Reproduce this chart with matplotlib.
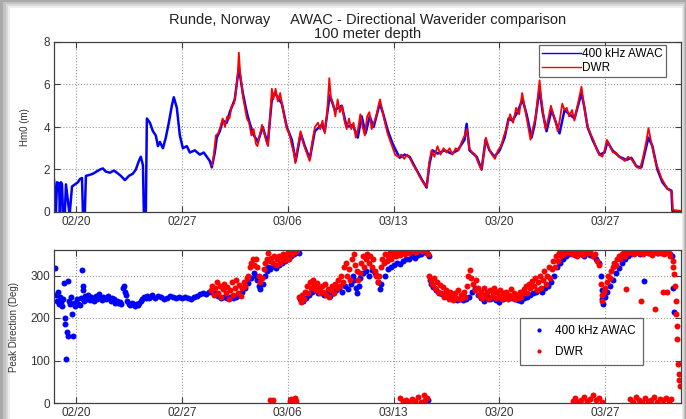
import numpy as np
import matplotlib
matplotlib.use("Agg")
import matplotlib.pyplot as plt
from matplotlib.patches import Rectangle

plt.rcParams["font.family"] = ["Liberation Sans", "DejaVu Sans"]

# x axis: days since 02/20
tick_days = [0, 7, 14, 21, 28, 35]
tick_labels = ["02/20", "02/27", "03/06", "03/13", "03/20", "03/27"]

# Hm0 (m), 400 kHz AWAC
awac_hm0 = [
    (-1.45, 1.5), (-1.32, 0.0), (-1.25, 1.4), (-1.12, 1.35), (-1.06, 0.0), (-0.99, 1.4),
    (-0.92, 1.3), (-0.86, 0.0), (-0.73, 0.0), (-0.66, 1.3), (-0.46, 0.1), (-0.40, 0.0),
    (-0.26, 1.2), (-0.07, 1.3), (0.13, 1.4), (0.26, 1.55), (0.40, 1.6), (0.46, 0.0),
    (0.59, 0.0), (0.66, 1.7), (0.92, 1.75), (1.12, 1.8), (1.59, 2.0), (1.78, 2.05),
    (1.98, 1.9), (2.25, 1.85), (2.51, 1.95), (2.71, 1.85), (2.97, 1.7), (3.24, 1.5),
    (3.50, 1.7), (3.76, 1.8), (3.96, 2.0), (4.16, 2.4), (4.29, 2.6), (4.43, 2.2),
    (4.49, 0.0), (4.62, 0.0), (4.69, 4.4), (4.89, 4.2), (5.09, 3.8), (5.28, 3.6),
    (5.42, 3.1), (5.55, 3.3), (5.75, 3.0), (5.94, 3.5), (6.14, 4.2), (6.34, 5.0),
    (6.47, 5.4), (6.67, 4.9), (6.87, 3.6), (7.07, 3.0), (7.33, 3.1), (7.53, 2.8),
    (7.86, 2.9), (8.19, 2.7), (8.45, 2.8), (8.65, 2.6), (8.85, 2.4), (8.98, 2.1),
    (9.18, 2.8), (9.31, 3.5), (9.51, 3.8), (9.71, 4.3), (9.97, 4.2), (10.17, 4.7),
    (10.50, 5.3), (10.77, 6.8), (10.90, 6.2), (11.03, 5.6), (11.23, 4.9), (11.36, 4.5),
    (11.69, 3.7), (12.02, 3.3), (12.35, 4.0), (12.68, 3.2), (12.95, 5.3), (13.14, 5.6),
    (13.34, 5.4), (13.61, 5.1), (13.94, 4.0), (14.27, 3.4), (14.53, 2.4), (14.86, 3.7),
    (15.13, 3.1), (15.46, 2.5), (15.79, 3.8), (16.25, 4.1), (16.45, 3.8), (16.78, 5.5),
    (17.11, 4.8), (17.57, 5.0), (17.90, 4.0), (18.30, 4.1), (18.63, 3.5), (18.89, 4.5),
    (19.15, 3.7), (19.42, 4.5), (19.68, 4.0), (20.08, 5.1), (20.28, 4.7), (20.61, 3.85),
    (20.94, 3.2), (21.40, 2.55), (21.73, 2.7), (22.06, 2.6), (22.39, 2.15), (22.85, 1.55),
    (23.18, 1.15), (23.38, 2.3), (23.58, 2.9), (23.91, 2.75), (24.37, 2.9), (24.83, 2.75),
    (25.23, 2.9), (25.69, 3.4), (25.83, 4.15), (26.02, 2.9), (26.49, 2.6), (26.82, 2.0),
    (27.08, 3.4), (27.34, 2.9), (27.67, 2.6), (28.01, 2.9), (28.34, 3.5), (28.60, 4.4),
    (28.86, 4.3), (29.19, 4.7), (29.52, 5.3), (29.79, 4.6), (30.12, 3.5), (30.32, 4.1),
    (30.65, 5.8), (30.85, 4.7), (31.11, 3.8), (31.44, 4.8), (31.64, 4.4), (31.97, 3.7),
    (32.30, 4.8), (32.63, 4.6), (32.96, 4.4), (33.42, 5.6), (33.62, 4.9), (33.82, 4.0),
    (34.15, 3.4), (34.61, 2.7), (34.94, 2.8), (35.14, 3.3), (35.47, 2.9), (35.93, 2.6),
    (36.39, 2.45), (36.72, 2.55), (37.05, 2.15), (37.38, 2.1), (37.71, 3.1), (37.85, 3.5),
    (38.11, 3.1), (38.44, 2.0), (38.77, 1.4), (39.10, 1.1), (39.37, 1.0), (39.43, 0.05),
    (40.0, 0.0),
]

# Hm0 (m), DWR
dwr_hm0 = [
    (8.98, 2.2), (9.1, 2.6), (9.25, 3.6), (9.4, 3.7), (9.55, 4.0), (9.7, 4.4), (9.85, 4.0),
    (10.0, 4.5), (10.15, 4.4), (10.3, 5.0), (10.45, 5.1), (10.6, 5.8), (10.7, 6.5),
    (10.77, 7.5), (10.85, 6.6), (10.95, 6.0), (11.05, 5.4), (11.15, 5.0), (11.3, 4.4),
    (11.45, 4.2), (11.6, 3.6), (11.75, 3.9), (11.9, 3.2), (12.0, 3.1), (12.15, 3.6),
    (12.3, 4.1), (12.45, 3.7), (12.6, 3.3), (12.7, 3.1), (12.85, 4.6), (12.95, 5.8),
    (13.05, 5.3), (13.2, 5.8), (13.35, 5.2), (13.5, 5.6), (13.65, 5.0), (13.8, 4.4),
    (13.95, 3.9), (14.1, 3.7), (14.25, 3.2), (14.4, 2.8), (14.5, 2.3), (14.65, 3.0),
    (14.85, 3.8), (15.0, 3.3), (15.15, 3.0), (15.3, 2.7), (15.45, 2.4), (15.6, 3.2),
    (15.8, 4.0), (16.0, 4.2), (16.15, 3.9), (16.3, 4.3), (16.45, 3.7), (16.6, 4.6),
    (16.75, 6.3), (16.85, 5.4), (17.0, 5.1), (17.15, 4.5), (17.3, 5.3), (17.45, 4.7),
    (17.6, 5.0), (17.75, 4.3), (17.9, 3.9), (18.05, 4.4), (18.2, 3.9), (18.35, 4.2),
    (18.5, 3.5), (18.65, 3.9), (18.8, 4.6), (18.95, 4.0), (19.1, 3.6), (19.25, 4.5),
    (19.4, 4.7), (19.55, 3.9), (19.7, 4.2), (19.85, 4.5), (20.0, 5.0), (20.1, 5.3),
    (20.25, 4.8), (20.4, 4.3), (20.6, 3.7), (20.8, 3.3), (20.95, 3.0), (21.1, 2.7),
    (21.3, 2.6), (21.5, 2.7), (21.7, 2.5), (21.9, 2.7), (22.1, 2.5), (22.3, 2.2),
    (22.5, 2.0), (22.7, 1.7), (22.9, 1.45), (23.1, 1.25), (23.2, 1.2), (23.35, 2.3),
    (23.5, 2.9), (23.7, 2.6), (23.9, 3.1), (24.1, 2.7), (24.3, 3.0), (24.5, 2.8),
    (24.7, 3.0), (24.9, 2.7), (25.1, 3.0), (25.3, 2.9), (25.5, 3.3), (25.7, 3.6),
    (25.85, 3.9), (26.0, 3.0), (26.2, 2.8), (26.4, 2.7), (26.6, 2.3), (26.8, 2.0),
    (27.0, 2.9), (27.1, 3.5), (27.3, 3.0), (27.5, 2.7), (27.7, 2.5), (27.9, 2.9),
    (28.1, 3.1), (28.3, 3.6), (28.5, 4.0), (28.7, 4.6), (28.9, 4.2), (29.1, 4.9),
    (29.3, 4.6), (29.5, 5.6), (29.7, 4.8), (29.9, 4.0), (30.05, 3.4), (30.2, 3.9),
    (30.4, 4.5), (30.55, 5.5), (30.65, 6.2), (30.75, 5.4), (30.9, 4.6), (31.05, 3.9),
    (31.2, 4.3), (31.4, 5.0), (31.55, 4.6), (31.7, 4.3), (31.85, 3.8), (32.0, 4.4),
    (32.15, 5.1), (32.3, 4.8), (32.45, 4.9), (32.6, 4.5), (32.8, 4.8), (32.95, 4.3),
    (33.1, 4.8), (33.3, 5.5), (33.42, 5.9), (33.55, 5.2), (33.7, 4.5), (33.85, 4.0),
    (34.0, 3.7), (34.2, 3.4), (34.4, 3.0), (34.6, 2.7), (34.8, 2.6), (34.95, 2.9),
    (35.1, 3.4), (35.3, 3.1), (35.5, 2.8), (35.7, 2.8), (35.9, 2.6), (36.1, 2.5),
    (36.3, 2.4), (36.5, 2.6), (36.7, 2.5), (36.9, 2.3), (37.1, 2.1), (37.3, 2.05),
    (37.5, 2.6), (37.7, 3.3), (37.85, 3.95), (38.0, 3.4), (38.15, 2.9), (38.3, 2.4),
    (38.5, 2.0), (38.7, 1.6), (38.9, 1.35), (39.1, 1.1), (39.3, 1.0), (39.4, 0.9),
    (39.45, 0.1), (40.0, 0.05),
]

# Peak direction (deg), 400 kHz AWAC
awac_dir = [
    (-1.39, 318), (-1.3, 255), (-1.25, 240), (-1.2, 262), (-1.12, 232), (-1.06, 250),
    (-1.0, 238), (-0.93, 228), (-0.86, 245), (-0.8, 283), (-0.75, 201), (-0.7, 186),
    (-0.66, 104), (-0.62, 166), (-0.55, 158), (-0.53, 287), (-0.45, 240), (-0.4, 232),
    (-0.33, 250), (-0.25, 210), (-0.2, 158), (-0.15, 236), (-0.05, 228), (0.05, 245),
    (0.15, 232), (0.26, 230), (0.35, 248), (0.4, 314), (0.46, 275), (0.5, 265),
    (0.55, 240), (0.6, 252), (0.7, 245), (0.8, 255), (0.9, 243), (1.0, 250), (1.1, 247),
    (1.2, 240), (1.3, 252), (1.4, 245), (1.5, 256), (1.6, 248), (1.7, 242), (1.8, 250),
    (1.9, 247), (2.0, 244), (2.1, 252), (2.2, 246), (2.3, 240), (2.4, 248), (2.5, 244),
    (2.6, 236), (2.7, 240), (2.8, 235), (2.9, 238), (3.0, 233), (3.1, 270), (3.2, 275),
    (3.25, 262), (3.3, 255), (3.35, 240), (3.5, 233), (3.6, 230), (3.7, 236), (3.8, 232),
    (3.9, 229), (4.0, 234), (4.1, 231), (4.2, 235), (4.3, 240), (4.4, 245), (4.5, 250),
    (4.6, 247), (4.7, 252), (4.8, 246), (4.9, 250), (5.0, 255), (5.2, 248), (5.4, 252),
    (5.6, 250), (5.8, 245), (6.0, 248), (6.2, 252), (6.4, 250), (6.6, 246), (6.8, 249),
    (7.0, 247), (7.2, 250), (7.4, 247), (7.6, 245), (7.8, 249), (8.0, 252), (8.2, 256),
    (8.4, 258), (8.6, 256), (8.8, 262), (9.0, 262), (9.2, 258), (9.4, 252), (9.6, 248),
    (9.8, 250), (10.0, 246), (10.2, 250), (10.4, 246), (10.6, 250), (10.8, 255),
    (11.0, 262), (11.2, 270), (11.4, 282), (11.6, 295), (11.8, 305), (11.9, 300),
    (12.0, 290), (12.1, 275), (12.2, 268), (12.35, 280), (12.5, 300), (12.6, 310),
    (12.7, 320), (12.85, 315), (13.0, 322), (13.2, 318), (13.4, 325), (13.6, 330),
    (13.8, 335), (14.0, 340), (14.2, 345), (14.4, 350), (14.6, 355), (14.75, 352),
    (14.8, 245), (15.0, 240), (15.2, 248), (15.4, 255), (15.6, 262), (15.8, 265),
    (16.0, 258), (16.2, 262), (16.4, 255), (16.6, 258), (16.8, 252), (17.0, 260),
    (17.2, 265), (17.4, 270), (17.6, 262), (17.8, 275), (18.0, 268), (18.2, 280),
    (18.3, 300), (18.4, 290), (18.5, 270), (18.6, 260), (18.7, 275), (18.8, 295),
    (19.0, 305), (19.2, 310), (19.4, 300), (19.6, 312), (19.8, 305), (20.0, 285),
    (20.1, 268), (20.2, 280), (20.4, 300), (20.6, 315), (20.8, 320), (21.0, 325),
    (21.2, 330), (21.4, 328), (21.6, 335), (21.8, 338), (22.0, 340), (22.2, 345),
    (22.4, 342), (22.6, 348), (22.8, 350), (23.0, 355), (23.2, 352), (23.35, 345),
    (23.15, 4), (23.25, 6),
    (23.4, 290), (23.5, 280), (23.6, 272), (23.8, 265), (24.0, 260), (24.2, 256),
    (24.4, 252), (24.6, 250), (24.8, 247), (25.0, 245), (25.2, 243), (25.4, 245),
    (25.6, 242), (25.8, 244), (26.0, 250), (26.2, 262), (26.4, 270), (26.6, 255),
    (26.8, 248), (27.0, 240), (27.2, 252), (27.4, 245), (27.6, 248), (27.8, 242),
    (28.0, 238), (28.2, 245), (28.4, 250), (28.6, 246), (28.8, 248), (29.0, 244),
    (29.2, 242), (29.4, 240), (29.6, 246), (29.8, 250), (30.0, 255), (30.2, 258),
    (30.4, 262), (30.6, 265), (30.8, 262), (31.0, 270), (31.2, 275), (31.4, 285),
    (31.6, 300), (31.8, 320), (32.0, 330), (32.2, 340), (32.4, 345), (32.6, 350),
    (32.8, 352), (33.0, 348), (33.2, 355), (33.4, 350), (33.6, 346), (33.8, 352),
    (34.0, 348), (34.2, 345), (34.4, 340), (34.6, 330), (34.7, 300), (34.75, 265),
    (34.8, 245), (34.85, 233), (34.95, 250), (35.1, 262), (35.3, 275), (35.5, 290),
    (35.7, 305), (35.9, 318), (36.1, 330), (36.3, 338), (36.5, 345), (36.7, 350),
    (36.9, 352), (37.1, 355), (37.3, 350), (37.58, 288), (37.5, 352), (37.7, 356),
    (37.9, 352), (38.1, 355), (38.3, 357), (38.5, 354), (38.7, 356), (38.9, 352),
    (39.1, 356), (39.3, 350), (39.4, 345), (39.45, 270), (39.55, 214),
]

# Peak direction (deg), DWR
dwr_dir = [
    (8.9, 265), (9.0, 275), (9.1, 255), (9.2, 270), (9.3, 285), (9.4, 260), (9.5, 275),
    (9.6, 250), (9.7, 268), (9.8, 280), (9.9, 258), (10.0, 272), (10.1, 245), (10.2, 265),
    (10.3, 285), (10.4, 255), (10.5, 270), (10.6, 290), (10.7, 260), (10.8, 278),
    (10.9, 252), (11.0, 270), (11.1, 285), (11.2, 275), (11.3, 295), (11.4, 300),
    (11.5, 320), (11.6, 330), (11.7, 338), (11.8, 325), (11.9, 340), (12.0, 320),
    (12.1, 300), (12.2, 285), (12.3, 295), (12.4, 315), (12.5, 330), (12.6, 340),
    (12.7, 352), (12.8, 335), (12.9, 342), (13.0, 330), (13.1, 345), (13.2, 325),
    (13.3, 338), (13.4, 345), (13.5, 330), (13.6, 342), (13.7, 350), (13.8, 336),
    (13.9, 345), (14.0, 355), (14.1, 340), (14.2, 358), (14.3, 350), (14.4, 360),
    (14.5, 355), (14.6, 360),
    (14.75, 250), (14.85, 238), (14.95, 255), (15.05, 245), (15.15, 262), (15.25, 275),
    (15.35, 260), (15.45, 285), (15.55, 270), (15.65, 290), (15.75, 278), (15.85, 265),
    (15.95, 282), (16.05, 270), (16.15, 258), (16.25, 275), (16.35, 262), (16.45, 280),
    (16.55, 255), (16.65, 268), (16.75, 250), (16.85, 265), (16.95, 275), (17.05, 260),
    (17.15, 280), (17.25, 270), (17.35, 290), (17.45, 275), (17.55, 300), (17.65, 285),
    (17.75, 320), (17.85, 330), (17.95, 300), (18.05, 315), (18.15, 290), (18.25, 340),
    (18.35, 350), (18.45, 325), (18.55, 310), (18.65, 290), (18.75, 305), (18.85, 330),
    (18.95, 345), (19.05, 320), (19.15, 338), (19.25, 350), (19.35, 330), (19.45, 345),
    (19.55, 320), (19.65, 340), (19.75, 310), (19.85, 300), (19.95, 285), (20.05, 300),
    (20.15, 320), (20.25, 340), (20.35, 330), (20.45, 350), (20.55, 335), (20.65, 345),
    (20.75, 355), (20.85, 340), (20.95, 350), (21.05, 358), (21.15, 345), (21.25, 355),
    (21.35, 360), (21.45, 348), (21.55, 356), (21.65, 360), (21.75, 350), (21.85, 358),
    (21.95, 360), (22.05, 352), (22.15, 358), (22.3, 360), (22.5, 356), (22.7, 360),
    (22.9, 357), (23.1, 360), (23.3, 350),
    (23.35, 300), (23.45, 290), (23.55, 280), (23.65, 295), (23.75, 270), (23.85, 285),
    (23.95, 262), (24.05, 278), (24.15, 258), (24.25, 272), (24.35, 250), (24.45, 265),
    (24.55, 255), (24.65, 245), (24.75, 262), (24.85, 250), (24.95, 242), (25.05, 258),
    (25.15, 248), (25.25, 265), (25.35, 245), (25.45, 255), (25.55, 248), (25.65, 262),
    (25.75, 250), (25.85, 275), (25.95, 300), (26.05, 312), (26.15, 295), (26.25, 280),
    (26.35, 265), (26.45, 290), (26.55, 270), (26.65, 255), (26.75, 262), (26.85, 248),
    (26.95, 270), (27.05, 255), (27.15, 262), (27.25, 245), (27.35, 265), (27.45, 250),
    (27.55, 258), (27.65, 270), (27.75, 248), (27.85, 262), (27.95, 252), (28.05, 265),
    (28.15, 245), (28.25, 258), (28.35, 250), (28.45, 262), (28.55, 245), (28.65, 255),
    (28.75, 268), (28.85, 250), (28.95, 260), (29.05, 245), (29.15, 255), (29.25, 248),
    (29.35, 262), (29.45, 250), (29.55, 258), (29.65, 268), (29.75, 275), (29.85, 260),
    (29.95, 280), (30.05, 270), (30.15, 288), (30.25, 275), (30.35, 295), (30.45, 265),
    (30.55, 285), (30.65, 300), (30.75, 270), (30.85, 290), (30.95, 310), (31.05, 280),
    (31.15, 300), (31.25, 320), (31.35, 295), (31.45, 315), (31.55, 335), (31.65, 320),
    (31.75, 345), (31.85, 335), (31.95, 352), (32.05, 345), (32.15, 358), (32.25, 350),
    (32.35, 360), (32.5, 355), (32.65, 360), (32.8, 350), (32.95, 358), (33.1, 345),
    (33.25, 360), (33.4, 355), (33.55, 348), (33.7, 360), (33.85, 352), (34.0, 358),
    (34.15, 345), (34.3, 350), (34.45, 335), (34.6, 325),
    (34.7, 280), (34.75, 255), (34.8, 240), (34.9, 262), (35.0, 270), (35.1, 285),
    (35.2, 300), (35.3, 295), (35.4, 310), (35.5, 320), (35.6, 330), (35.7, 325),
    (35.8, 340), (35.9, 345), (36.0, 338), (36.1, 350), (36.2, 355), (36.3, 345),
    (36.4, 358), (36.5, 352), (36.6, 360), (36.7, 355), (36.8, 360), (36.9, 350),
    (37.0, 358), (37.1, 360), (37.2, 352), (37.3, 358), (37.4, 360), (37.5, 350),
    (37.6, 356), (37.7, 360), (37.8, 352), (37.9, 358), (38.0, 360), (38.1, 348),
    (38.2, 356), (38.3, 360), (38.4, 352), (38.5, 358), (38.6, 360), (38.7, 354),
    (38.8, 360), (38.9, 350), (39.0, 356), (39.1, 360), (39.2, 352), (39.3, 345),
    (36.35, 268), (37.35, 241), (38.3, 222), (38.8, 261), (39.1, 261),
    (39.45, 335), (39.5, 320), (39.55, 304), (39.6, 276), (39.65, 241), (39.7, 210),
    (39.72, 182), (39.75, 150), (39.8, 92), (39.85, 69), (39.9, 53), (39.95, 40),
    (12.85, 6), (12.95, 2), (13.05, 8),
    (14.15, 5), (14.25, 10), (14.35, 2), (14.45, 12), (14.55, 4),
    (21.4, 12), (21.6, 4), (21.8, 8), (22.0, 2), (22.2, 10), (22.4, 5), (22.6, 14),
    (22.8, 3), (23.0, 18), (23.1, 8), (23.2, 12),
    (32.85, 5), (33.0, 12), (33.2, 2), (33.4, 8), (33.6, 15), (33.8, 4), (34.0, 10),
    (34.2, 18), (34.4, 6), (34.6, 12), (34.8, 3),
    (36.6, 10), (36.8, 3), (37.0, 14), (37.2, 6), (37.4, 2), (37.6, 12), (37.8, 5),
    (38.0, 8), (38.2, 15), (38.4, 3), (38.6, 10), (38.8, 6), (39.0, 12), (39.2, 4),
    (39.35, 9),
]

W, H = 686, 419
fig = plt.figure(figsize=(W / 100, H / 100), dpi=100)
fig.patch.set_facecolor("#a9a9a9")

# soft shadow frame around the white panel (left, right, top insets in px)
for left, right, top, col in [(3, 1, 2, "#c2c2c2"), (6, 2, 4, "#d8d8d8"),
                              (8, 3, 6, "#ececec"), (10, 4, 8, "#ffffff")]:
    fig.patches.append(Rectangle((left / W, 0), (W - left - right) / W, (H - top) / H,
                                 transform=fig.transFigure, facecolor=col,
                                 edgecolor="none", zorder=-10))

ax1 = fig.add_axes([54 / W, 1 - 212 / H, 627 / W, 170 / H])
ax2 = fig.add_axes([54 / W, 1 - 403 / H, 627 / W, 153 / H])

t, v = np.array(awac_hm0).T
ax1.plot(t, v, color="#0000ff", lw=1.8, label="400 kHz AWAC")
t, v = np.array(dwr_hm0).T
ax1.plot(t, v, color="#ff0000", lw=1.3, label="DWR")

t, v = np.array(awac_dir).T
ax2.plot(t, v, ls="none", marker="o", ms=4.3, mew=0, color="#0000ff", label="400 kHz AWAC")
t, v = np.array(dwr_dir).T
ax2.plot(t, v, ls="none", marker="o", ms=4.3, mew=0, color="#ff0000", label="DWR")

for ax in (ax1, ax2):
    ax.set_xlim(-1.45, 40.0)
    ax.set_xticks(tick_days)
    ax.set_xticklabels(tick_labels)
    ax.grid(True, ls=":", color="#9a9a9a", lw=0.8)
    ax.tick_params(direction="in", length=4, top=True, right=True,
                   labelsize=8.5, labelcolor="#333333", color="#404040", pad=3)
    for s in ax.spines.values():
        s.set_color("#404040")
        s.set_linewidth(0.9)

ax1.set_ylim(0, 8)
ax1.set_yticks([0, 2, 4, 6, 8])
ax1.set_ylabel("Hm0 (m)", fontsize=7, color="#333333")
ax1.yaxis.set_label_coords(-0.038, 0.5)

ax2.set_ylim(0, 360)
ax2.set_yticks([0, 100, 200, 300])
ax2.set_ylabel("Peak Direction (Deg)", fontsize=7, color="#333333")
ax2.yaxis.set_label_coords(-0.056, 0.5)

ax1.set_title("Runde, Norway     AWAC - Directional Waverider comparison\n100 meter depth",
              fontsize=10.5, color="#222222", linespacing=1.0, pad=3)

leg1 = ax1.legend(loc="upper right", bbox_to_anchor=(0.976, 0.982), fontsize=8.5,
                  fancybox=False, handlelength=3.3, handletextpad=0.15,
                  borderpad=0.25, labelspacing=0.15, borderaxespad=0)
leg1.get_frame().set_edgecolor("#404040")
leg1.get_frame().set_linewidth(0.9)
for ln in leg1.get_lines():
    ln.set_linewidth(1.0)

leg2 = ax2.legend(loc="lower left", bbox_to_anchor=(0.743, 0.248), fontsize=8.5,
                  fancybox=False, handlelength=2.0, handletextpad=0.4, markerscale=0.7,
                  borderpad=0.6, labelspacing=0.75, borderaxespad=0)
leg2.get_frame().set_edgecolor("#404040")
leg2.get_frame().set_linewidth(0.9)

fig.savefig("out.png", dpi=100, facecolor=fig.get_facecolor())
